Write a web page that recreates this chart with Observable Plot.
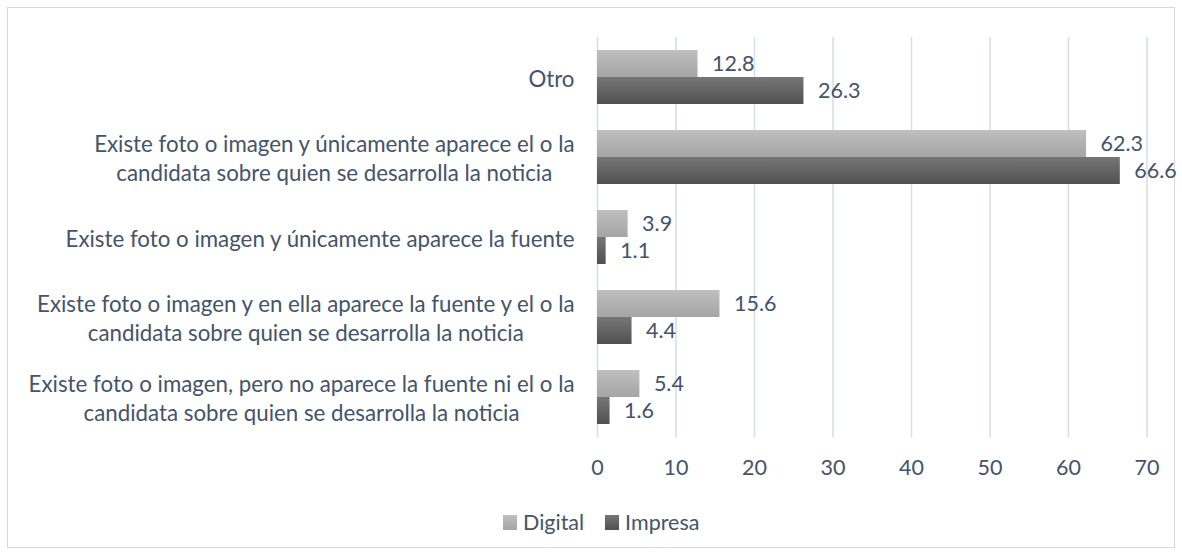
<!DOCTYPE html>
<html>
<head>
<meta charset="utf-8">
<script src="https://cdn.jsdelivr.net/npm/d3@7"></script>
<script src="https://cdn.jsdelivr.net/npm/@observablehq/plot@0.6"></script>
<style>
  body { margin: 0; background: #fff; font-family: Lato, sans-serif; }
  #frame { position: absolute; left: 7px; top: 7px; width: 1168px; height: 541px; border: 1px solid #d9d9d9; box-sizing: border-box; background: #fff; }
  #chart { position: absolute; left: 0; top: 0; }
  #chart svg { overflow: visible; }
  #legend { position: absolute; left: 495px; top: 499px; height: 30px; display: flex; align-items: center; font-family: Lato, sans-serif; font-size: 21.5px; color: #44546a; }
  .item { display: flex; align-items: center; margin-right: 21px; }
  .sw { width: 14px; height: 15px; margin-right: 6px; }
</style>
</head>
<body>
<div id="frame"><div id="chart"></div><div id="legend"></div></div>
<script>
const categories = [
  "Otro",
  "Existe foto o imagen y únicamente aparece el o la\ncandidata sobre quien se desarrolla la noticia",
  "Existe foto o imagen y únicamente aparece la fuente",
  "Existe foto o imagen y en ella aparece la fuente y el o la\ncandidata sobre quien se desarrolla la noticia",
  "Existe foto o imagen, pero no aparece la fuente ni el o la\ncandidata sobre quien se desarrolla la noticia"
];
const digital = [12.8, 62.3, 3.9, 15.6, 5.4];
const impresa = [26.3, 66.6, 1.1, 4.4, 1.6];
const series = ["Digital", "Impresa"];
const xTicks = [0, 10, 20, 30, 40, 50, 60, 70];

const digitalRows = categories.map((c, i) => ({category: c, series: "Digital", value: digital[i]}));
const impresaRows = categories.map((c, i) => ({category: c, series: "Impresa", value: impresa[i]}));

const textColor = "#44546a";
const fs = 21.5;
const labelFs = 22.3;

const defs = () => {
  const d = d3.create("svg:defs");
  const g1 = d.append("linearGradient").attr("id", "gDigital").attr("x1", 0).attr("y1", 0).attr("x2", 0).attr("y2", 1);
  g1.append("stop").attr("offset", "0%").attr("stop-color", "#bfbfbf");
  g1.append("stop").attr("offset", "100%").attr("stop-color", "#a5a5a5");
  const g2 = d.append("linearGradient").attr("id", "gImpresa").attr("x1", 0).attr("y1", 0).attr("x2", 0).attr("y2", 1);
  g2.append("stop").attr("offset", "0%").attr("stop-color", "#767676");
  g2.append("stop").attr("offset", "100%").attr("stop-color", "#505050");
  return d.node();
};

const plot = Plot.plot({
  width: 1166,
  height: 482,
  marginLeft: 589,
  marginRight: 27.5,
  marginTop: 29,
  marginBottom: 52.5,
  style: {fontFamily: "Lato, sans-serif", color: textColor, background: "transparent", overflow: "visible"},
  x: {domain: [0, 70], ticks: xTicks},
  y: {type: "band", domain: categories, paddingInner: 0.325, paddingOuter: 0.1625},
  marks: [
    defs,
    Plot.ruleX(xTicks, {stroke: "#d9dfe8", strokeWidth: 1.6}),
    Plot.barX(digitalRows, {x: "value", y: "category", fill: "url(#gDigital)", insetBottom: 27}),
    Plot.barX(impresaRows, {x: "value", y: "category", fill: "url(#gImpresa)", insetTop: 27}),
    Plot.text(digitalRows, {x: "value", y: "category", text: d => d.value.toFixed(1), dy: -13.5, dx: 14, textAnchor: "start", fontSize: fs, fill: textColor}),
    Plot.text(impresaRows, {x: "value", y: "category", text: d => d.value.toFixed(1), dy: 13.5, dx: 14, textAnchor: "start", fontSize: fs, fill: textColor}),
    Plot.axisX({ticks: xTicks, tickSize: 0, tickPadding: 22, fontSize: fs, label: null, fill: textColor}),
    Plot.axisY({tickSize: 0, tickPadding: 23, fontSize: labelFs, lineHeight: 1.28, label: null, fill: textColor})
  ]
});

document.getElementById("chart").append(plot);

// center the lines of each multi-line category label within its right-aligned block
plot.querySelectorAll('g[aria-label="y-axis tick label"] text').forEach(t => {
  const spans = t.querySelectorAll("tspan");
  const w = spans.length ? Math.max(...Array.from(spans, s => s.getComputedTextLength())) : t.getComputedTextLength();
  t.setAttribute("text-anchor", "middle");
  const tr = t.getAttribute("transform") || "";
  t.setAttribute("transform", tr + ` translate(${-w / 2},0)`);
});

const legend = d3.select("#legend");
const grads = {Digital: "linear-gradient(#bfbfbf,#a5a5a5)", Impresa: "linear-gradient(#767676,#505050)"};
series.forEach(s => {
  const it = legend.append("div").attr("class", "item");
  it.append("div").attr("class", "sw").style("background", grads[s]);
  it.append("span").text(s);
});
</script>
</body>
</html>
